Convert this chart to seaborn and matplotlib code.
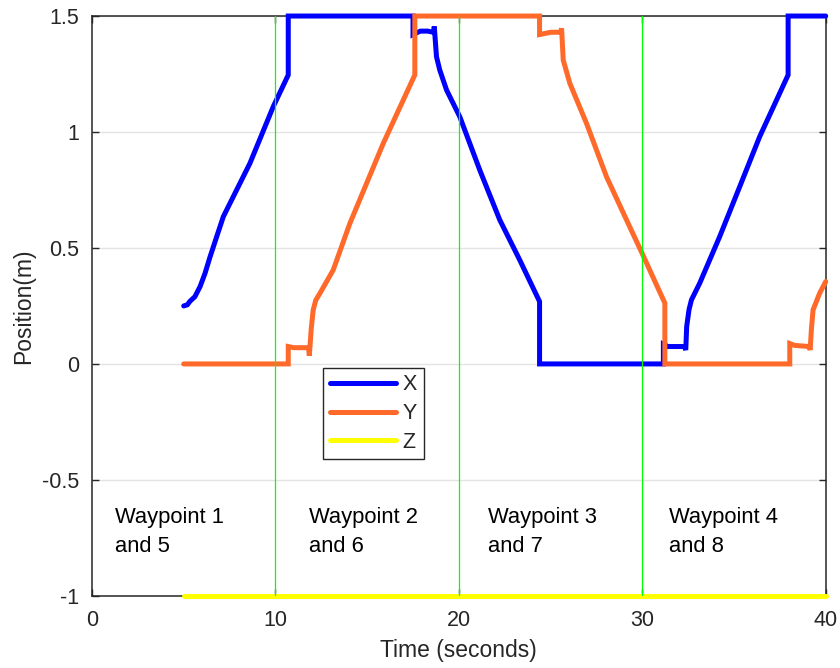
import numpy as np
import pandas as pd
import matplotlib
matplotlib.use("Agg")
import matplotlib.pyplot as plt
import seaborn as sns

# ---- trajectory samples -------------------------------------------------
x_time = [5.0, 5.2, 5.34, 5.61, 5.89, 6.16, 6.43, 6.8, 7.16, 8.61, 9.88, 10.7, 10.7,
          17.5, 17.5, 17.9, 18.3, 18.62, 18.66, 18.72, 18.78, 18.96, 19.33, 20.05,
          21.14, 22.23, 23.32, 24.4, 24.4, 31.15, 31.15, 31.4, 32.3, 32.37,
          32.42, 32.55, 32.68, 33.13, 34.22, 35.31, 36.4, 37.95, 37.95, 40.0]
x_pos = [0.25, 0.255, 0.27, 0.29, 0.333, 0.39, 0.46, 0.549, 0.635, 0.865, 1.109, 1.246, 1.5,
         1.5, 1.42, 1.435, 1.435, 1.43, 1.455, 1.39, 1.325, 1.267, 1.181, 1.066,
         0.836, 0.621, 0.448, 0.269, 0.0, 0.0, 0.085, 0.075, 0.075, 0.06,
         0.161, 0.235, 0.276, 0.348, 0.549, 0.764, 0.98, 1.246, 1.5, 1.5]

y_time = [5.0, 10.7, 10.7, 11.0, 11.8, 11.85, 11.95, 12.06, 12.2, 12.43, 13.15, 14.06,
          15.88, 17.6, 17.6, 24.4, 24.4, 25.0, 25.55, 25.6, 25.69, 26.05, 26.96,
          28.05, 29.14, 29.99, 31.23, 31.23, 38.04, 38.04, 38.3, 39.1, 39.15,
          39.22, 39.31, 39.67, 40.0]
y_pos = [0.0, 0.0, 0.075, 0.07, 0.07, 0.035, 0.15, 0.233, 0.275, 0.305, 0.405, 0.606,
         0.951, 1.246, 1.5, 1.5, 1.42, 1.43, 1.43, 1.447, 1.31, 1.21, 1.037,
         0.807, 0.621, 0.477, 0.262, 0.0, 0.0, 0.088, 0.08, 0.075, 0.06,
         0.15, 0.233, 0.305, 0.355]

z_time = [5.0, 40.0]
z_pos = [-1.0, -1.0]

series_names = ["X", "Y", "Z"]
series_colors = ["#0000FF", "#FF6A2B", "#FFFF00"]

phase_bounds = [10, 20, 30]
phase_labels = ["Waypoint 1\nand 5", "Waypoint 2\nand 6",
                "Waypoint 3\nand 7", "Waypoint 4\nand 8"]
phase_label_x = [1.25, 11.83, 21.58, 31.44]

x_ticks = [0, 10, 20, 30, 40]
y_ticks = [-1, -0.5, 0, 0.5, 1, 1.5]
y_tick_labels = ["-1", "-0.5", "0", "0.5", "1", "1.5"]

# ---- long-form table ----------------------------------------------------
frames = []
for name, t, p in zip(series_names, [x_time, y_time, z_time], [x_pos, y_pos, z_pos]):
    frames.append(pd.DataFrame({"time": t, "position": p, "axis": name}))
df = pd.concat(frames, ignore_index=True)

# ---- styling ------------------------------------------------------------
sns.set_style("white")
plt.rcParams["font.family"] = ["Liberation Sans", "DejaVu Sans"]

fig = plt.figure(figsize=(8.4, 6.68), dpi=100)
ax = fig.add_axes([0.1095, 0.108, 0.8735, 0.868])

sns.lineplot(data=df, x="time", y="position", hue="axis",
             palette=dict(zip(series_names, series_colors)),
             estimator=None, sort=False, linewidth=3.6, ax=ax,
             zorder=3)
for ln in ax.get_lines():
    ln.set_clip_on(False)
    ln.set_solid_joinstyle("miter")

for xb in phase_bounds:
    ax.axvline(xb, color="#00FF00", linewidth=0.9, zorder=4)

for xl, txt in zip(phase_label_x, phase_labels):
    ax.text(xl, -0.615, txt, ha="left", va="top", fontsize=15.8,
            linespacing=1.55, color="black")

ax.set_xlim(0, 40)
ax.set_ylim(-1, 1.5)
ax.set_xticks(x_ticks)
ax.set_yticks(y_ticks)
ax.set_yticklabels(y_tick_labels)
ax.yaxis.grid(True, color="#E3E3E3", linewidth=1.0)
ax.xaxis.grid(False)
ax.set_axisbelow(True)

ax.tick_params(direction="in", length=5, width=1.0, colors="#262626",
               labelsize=15.5, labelcolor="#262626", top=True, right=True,
               left=True, bottom=True)
ax.tick_params(axis="x", pad=10)
ax.tick_params(axis="y", pad=9)
for sp in ax.spines.values():
    sp.set_visible(True)
    sp.set_color("#262626")
    sp.set_linewidth(1.1)

ax.set_xlabel("Time (seconds)", fontsize=16.5, color="#262626", labelpad=6)
ax.set_ylabel("Position(m)", fontsize=16.5, color="#262626", labelpad=5)

handles, labels = ax.get_legend_handles_labels()
leg = ax.legend(handles, labels, loc="upper left",
                bbox_to_anchor=(0.315, 0.393), fontsize=15.5, frameon=True,
                fancybox=False, framealpha=1, edgecolor="#262626",
                handlelength=3.1, handletextpad=0.3, labelspacing=0.36,
                borderpad=0.3, borderaxespad=0)
leg.get_frame().set_linewidth(1.0)
for lh in leg.get_lines():
    lh.set_linewidth(3.6)

fig.savefig("out.png", dpi=100, facecolor="white")
